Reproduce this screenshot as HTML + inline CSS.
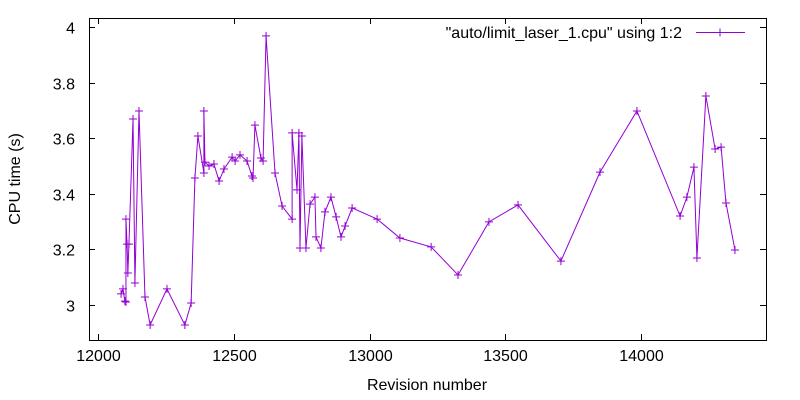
<!DOCTYPE html>
<html><head><meta charset="utf-8"><style>
html,body{margin:0;padding:0;background:#fff;}
svg{display:block;font-family:"Liberation Sans",sans-serif;}
</style></head><body>
<svg id="chart" width="800" height="400" viewBox="0 0 800 400"></svg>
<script>
const revisions=[12085,12092,12099,12103,12103,12107,12110,12114,12129,12136,12151,12173,12192,12254,12320,12343,12357,12368,12390,12390,12394,12409,12427,12446,12464,12494,12505,12523,12549,12567,12571,12578,12600,12608,12619,12652,12678,12715,12715,12733,12740,12744,12751,12766,12781,12799,12803,12821,12836,12858,12877,12895,12910,12936,13028,13112,13227,13326,13440,13547,13705,13849,13985,14144,14169,14195,14206,14239,14273,14295,14313,14346];
const cpuTimes=[3.040,3.058,3.014,3.011,3.309,3.219,3.115,3.219,3.669,3.079,3.698,3.029,2.928,3.058,2.928,3.007,3.457,3.608,3.475,3.698,3.514,3.500,3.507,3.446,3.489,3.532,3.518,3.540,3.518,3.464,3.457,3.647,3.529,3.518,3.968,3.475,3.356,3.309,3.619,3.414,3.619,3.205,3.608,3.205,3.363,3.388,3.245,3.205,3.335,3.388,3.317,3.245,3.284,3.349,3.309,3.241,3.209,3.108,3.299,3.360,3.158,3.478,3.698,3.320,3.388,3.496,3.169,3.752,3.561,3.568,3.367,3.198];
const xTicks=[12000,12500,13000,13500,14000];
const yTicks=[3,3.2,3.4,3.6,3.8,4];
const yTickLabels=["3","3.2","3.4","3.6","3.8","4"];

const L=89,R=766,T=18,B=340;
const X=v=>98+(v-12000)*0.2715;
const Y=v=>305-(v-3)*278;
const svg=document.getElementById('chart');
const NS='http://www.w3.org/2000/svg';
function mk(tag,attrs,parent){const e=document.createElementNS(NS,tag);for(const k in attrs)e.setAttribute(k,attrs[k]);(parent||svg).appendChild(e);return e;}

const frame=mk('rect',{x:L+0.5,y:T+0.5,width:R-L,height:B-T,fill:'none',stroke:'#000','stroke-width':1});



xTicks.forEach(v=>{
  const x=Math.round(X(v))+0.5;
  const t=mk('path',{d:`M${x},${B}v-6M${x},${T}v6`,stroke:'#000','stroke-width':1});
  
  
  const lb=mk('text',{x:x,y:B+21,'text-anchor':'middle','font-size':16,fill:'#000'});
  lb.textContent=v;
  
  
});
yTicks.forEach((v,i)=>{
  const y=Math.round(Y(v))+0.5;
  const t=mk('path',{d:`M${L},${y}h6M${R},${y}h-6`,stroke:'#000','stroke-width':1});
  
  
  const lb=mk('text',{x:L-14,y:y+6,'text-anchor':'end','font-size':16,fill:'#000'});
  lb.textContent=yTickLabels[i];
  
  
});

const xt=mk('text',{x:427,y:390,'text-anchor':'middle','font-size':16,fill:'#000'});
xt.textContent='Revision number';


const yt=mk('text',{x:20,y:179,'text-anchor':'middle','font-size':16,fill:'#000',transform:'rotate(-90 20 179)'});
yt.textContent='CPU time (s)';



const pts=revisions.map((r,i)=>[X(r),Y(cpuTimes[i])]);
const line=mk('polyline',{points:pts.map(p=>p.join(',')).join(' '),fill:'none',stroke:'#9400d3','stroke-width':1});


pts.forEach(p=>{
  const m=mk('path',{d:`M${p[0]-4},${p[1]}h8M${p[0]},${p[1]-4}v8`,stroke:'#9400d3','stroke-width':1});
  
  
});

const lt=mk('text',{x:682,y:38,'text-anchor':'end','font-size':16,fill:'#000'});
lt.textContent='"auto/limit_laser_1.cpu" using 1:2';


const ls=mk('path',{d:'M696,32.5h49M720,28.5v8',stroke:'#9400d3','stroke-width':1});


</script>
</body></html>
